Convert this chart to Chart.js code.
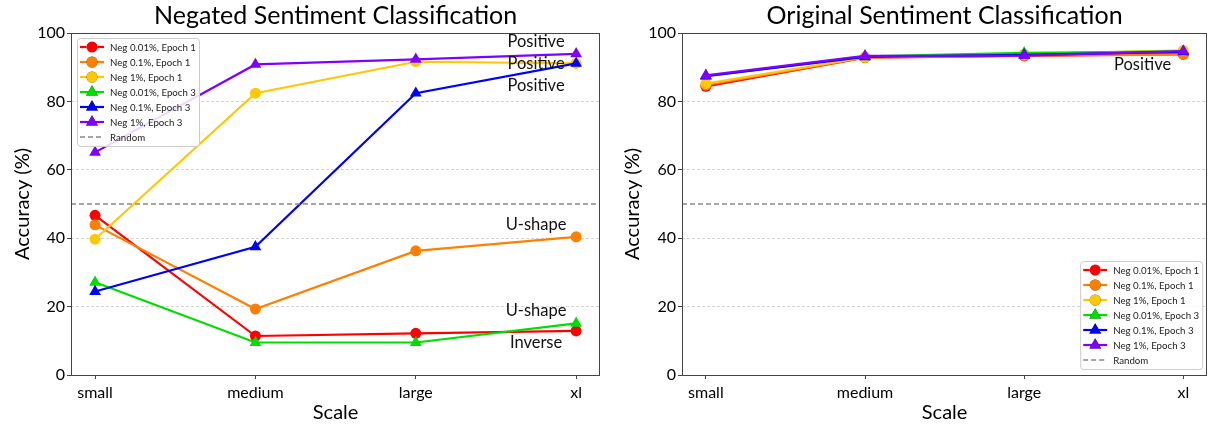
<!DOCTYPE html>
<html lang="en">
<head>
<meta charset="UTF-8">
<title>Sentiment Classification</title>
<script src="https://cdn.jsdelivr.net/npm/chart.js"></script>
<style>
    body { margin: 0; background: #fff; }
    .wrap { position: absolute; top: 0; width: 607px; height: 425px; }
    #leftWrap { left: 0; }
    #rightWrap { left: 607px; }
</style>
</head>
<body>
<div class="wrap" id="leftWrap"><canvas id="negChart"></canvas></div>
<div class="wrap" id="rightWrap"><canvas id="origChart"></canvas></div>
<script>
// categories on the x axis
const scaleNames = ['small', 'medium', 'large', 'xl'];
const yTicks = [0, 20, 40, 60, 80, 100];
const randomLevel = 50;

const seriesLabels = [
    'Neg 0.01%, Epoch 1', 'Neg 0.1%, Epoch 1', 'Neg 1%, Epoch 1',
    'Neg 0.01%, Epoch 3', 'Neg 0.1%, Epoch 3', 'Neg 1%, Epoch 3'
];

// negated sentiment accuracy (%)
const negated001E1 = [46.7, 11.4, 12.2, 12.9];
const negated01E1  = [43.9, 19.3, 36.3, 40.4];
const negated1E1   = [39.7, 82.4, 91.6, 91.1];
const negated001E3 = [27.1, 9.5, 9.5, 15.1];
const negated01E3  = [24.4, 37.5, 82.4, 91.1];
const negated1E3   = [65.1, 90.8, 92.3, 93.9];

// original sentiment accuracy (%)
const original001E1 = [84.4, 92.8, 93.3, 93.8];
const original01E1  = [84.8, 92.8, 93.4, 93.7];
const original1E1   = [85.2, 92.9, 93.8, 94.9];
const original001E3 = [87.4, 93.2, 94.2, 94.6];
const original01E3  = [87.4, 93.0, 93.6, 94.5];
const original1E3   = [87.6, 93.3, 93.4, 94.7];

// text notes next to the xl end of the lines
const negNoteTexts = ['Positive', 'Positive', 'Positive', 'U-shape', 'U-shape', 'Inverse'];
const origNoteTexts = ['Positive'];

const colors = ['#ff0000', '#ff7f00', '#ffc800', '#00dd00', '#0000ff', '#8000ff'];
const markers = ['circle', 'circle', 'circle', 'triangle', 'triangle', 'triangle'];
const FONT = 'Lato, "Open Sans", sans-serif';
const xMin = -0.15, xMax = 3.15;

const buildDatasets = (seriesList) => {
    const sets = seriesList.map((vals, i) => ({
        label: seriesLabels[i],
        data: vals.map((v, j) => ({ x: j, y: v })),
        borderColor: colors[i],
        backgroundColor: colors[i],
        borderWidth: 2.2,
        pointStyle: markers[i],
        pointRadius: markers[i] === 'triangle' ? 6.8 : 5.5,
        pointBorderWidth: 0,
        order: 10 - i
    }));
    sets.push({
        label: 'Random',
        data: [{ x: xMin, y: randomLevel }, { x: xMax, y: randomLevel }],
        borderColor: '#888888',
        borderWidth: 1.5,
        borderDash: [5, 3],
        pointRadius: 0,
        order: 0
    });
    return sets;
};

// frame around the plot area
const framePlugin = {
    id: 'frame',
    afterDatasetsDraw(chart) {
        const a = chart.chartArea, ctx = chart.ctx;
        ctx.save();
        ctx.strokeStyle = '#444';
        ctx.lineWidth = 1;
        ctx.strokeRect(Math.round(a.left) + 0.5, Math.round(a.top) + 0.5,
            Math.round(a.right - a.left) - 1, Math.round(a.bottom - a.top));
        ctx.restore();
    }
};

// text notes placed in data coordinates
const notesPlugin = {
    id: 'notes',
    afterDatasetsDraw(chart, args, opts) {
        const ctx = chart.ctx, xs = chart.scales.x, ys = chart.scales.y;
        ctx.save();
        ctx.font = '16.5px ' + FONT;
        ctx.fillStyle = '#111';
        ctx.textAlign = 'center';
        ctx.textBaseline = 'middle';
        opts.texts.forEach((t, i) => {
            ctx.fillText(t, xs.getPixelForValue(opts.xs[i]), ys.getPixelForValue(opts.ys[i]));
        });
        ctx.restore();
    }
};

// matplotlib style legend box inside the plot
const boxLegendPlugin = {
    id: 'boxLegend',
    afterDraw(chart, args, opts) {
        const ctx = chart.ctx, a = chart.chartArea;
        const w = 122, h = 108, rowH = 15;
        const left = opts.corner === 'upper left' ? a.left + 6 : a.right - 5 - w;
        const top = opts.corner === 'upper left' ? a.top + 5 : a.bottom - 6 - h;
        ctx.save();
        ctx.fillStyle = 'rgba(255,255,255,0.85)';
        ctx.strokeStyle = '#cccccc';
        ctx.lineWidth = 1;
        ctx.beginPath();
        ctx.roundRect(left + 0.5, top + 0.5, w, h, 3);
        ctx.fill();
        ctx.stroke();
        ctx.font = '9.7px ' + FONT;
        ctx.textBaseline = 'middle';
        ctx.textAlign = 'left';
        chart.data.datasets.forEach((ds, i) => {
            const y = top + 9 + i * rowH;
            ctx.strokeStyle = ds.borderColor;
            ctx.lineWidth = ds.borderWidth;
            ctx.setLineDash(ds.borderDash || []);
            ctx.beginPath();
            ctx.moveTo(left + 3, y);
            ctx.lineTo(left + 27, y);
            ctx.stroke();
            ctx.setLineDash([]);
            if (ds.pointRadius > 0) {
                Chart.helpers.drawPoint(ctx, {
                    pointStyle: ds.pointStyle, radius: ds.pointRadius,
                    borderWidth: 0, rotation: 0
                }, left + 15, y);
                ctx.fillStyle = ds.backgroundColor;
                ctx.fill();
            }
            ctx.fillStyle = '#222';
            ctx.fillText(ds.label, left + 33, y + 0.5);
        });
        ctx.restore();
    }
};

const makeChart = (canvasId, title, seriesList, yAxisWidth, yTitlePad, padRight, legendCorner, notes) => {
    return new Chart(document.getElementById(canvasId), {
        type: 'line',
        data: { datasets: buildDatasets(seriesList) },
        plugins: [framePlugin, notesPlugin, boxLegendPlugin],
        options: {
            responsive: true,
            maintainAspectRatio: false,
            animation: false,
            layout: { padding: { left: 0, right: padRight, top: 0, bottom: 0 } },
            plugins: {
                legend: { display: false },
                tooltip: { enabled: false },
                title: {
                    display: true,
                    text: title,
                    fullSize: false,
                    color: '#000',
                    font: { family: FONT, size: 25, weight: 'normal', lineHeight: 1.2 },
                    padding: { top: 1, bottom: 2 }
                },
                notes: notes,
                boxLegend: { corner: legendCorner }
            },
            scales: {
                x: {
                    type: 'linear',
                    min: xMin,
                    max: xMax,
                    afterBuildTicks: (s) => { s.ticks = scaleNames.map((n, i) => ({ value: i })); },
                    afterFit: (s) => { s.height = 50; },
                    ticks: {
                        callback: (v) => scaleNames[v],
                        color: '#000',
                        font: { family: FONT, size: 16 },
                        padding: 4,
                        maxRotation: 0
                    },
                    grid: { drawOnChartArea: false, drawTicks: true, tickLength: 4, tickColor: '#444' },
                    border: { display: false },
                    title: {
                        display: true,
                        text: 'Scale',
                        color: '#000',
                        font: { family: FONT, size: 20, lineHeight: 1.2 },
                        padding: { top: 3, bottom: 0 }
                    }
                },
                y: {
                    min: 0,
                    max: 100,
                    afterBuildTicks: (s) => { s.ticks = yTicks.map(v => ({ value: v })); },
                    afterFit: (s) => { s.width = yAxisWidth; },
                    ticks: {
                        color: '#000',
                        font: { family: FONT, size: 16 },
                        padding: 2
                    },
                    grid: {
                        color: (c) => (c.tick && (c.tick.value === 0 || c.tick.value === 100)) ? 'rgba(0,0,0,0)' : '#d4d4d4',
                        lineWidth: 1,
                        tickLength: 4,
                        tickColor: '#444',
                        tickBorderDash: []
                    },
                    border: { display: false, dash: [3, 2] },
                    title: {
                        display: true,
                        text: 'Accuracy (%)',
                        color: '#000',
                        font: { family: FONT, size: 20, lineHeight: 1.2 },
                        padding: { top: yTitlePad, bottom: 0 }
                    }
                }
            }
        }
    });
};

makeChart('negChart', 'Negated Sentiment Classification',
    [negated001E1, negated01E1, negated1E1, negated001E3, negated01E3, negated1E3],
    71, 11, 4, 'upper left',
    { texts: negNoteTexts, xs: [2.75, 2.75, 2.75, 2.75, 2.75, 2.75], ys: [97.4, 90.9, 84.5, 43.9, 18.7, 9.4] });

makeChart('origChart', 'Original Sentiment Classification',
    [original001E1, original01E1, original1E1, original001E3, original01E3, original1E3],
    75, 14, 1, 'lower right',
    { texts: origNoteTexts, xs: [2.744], ys: [90.6] });
</script>
</body>
</html>
